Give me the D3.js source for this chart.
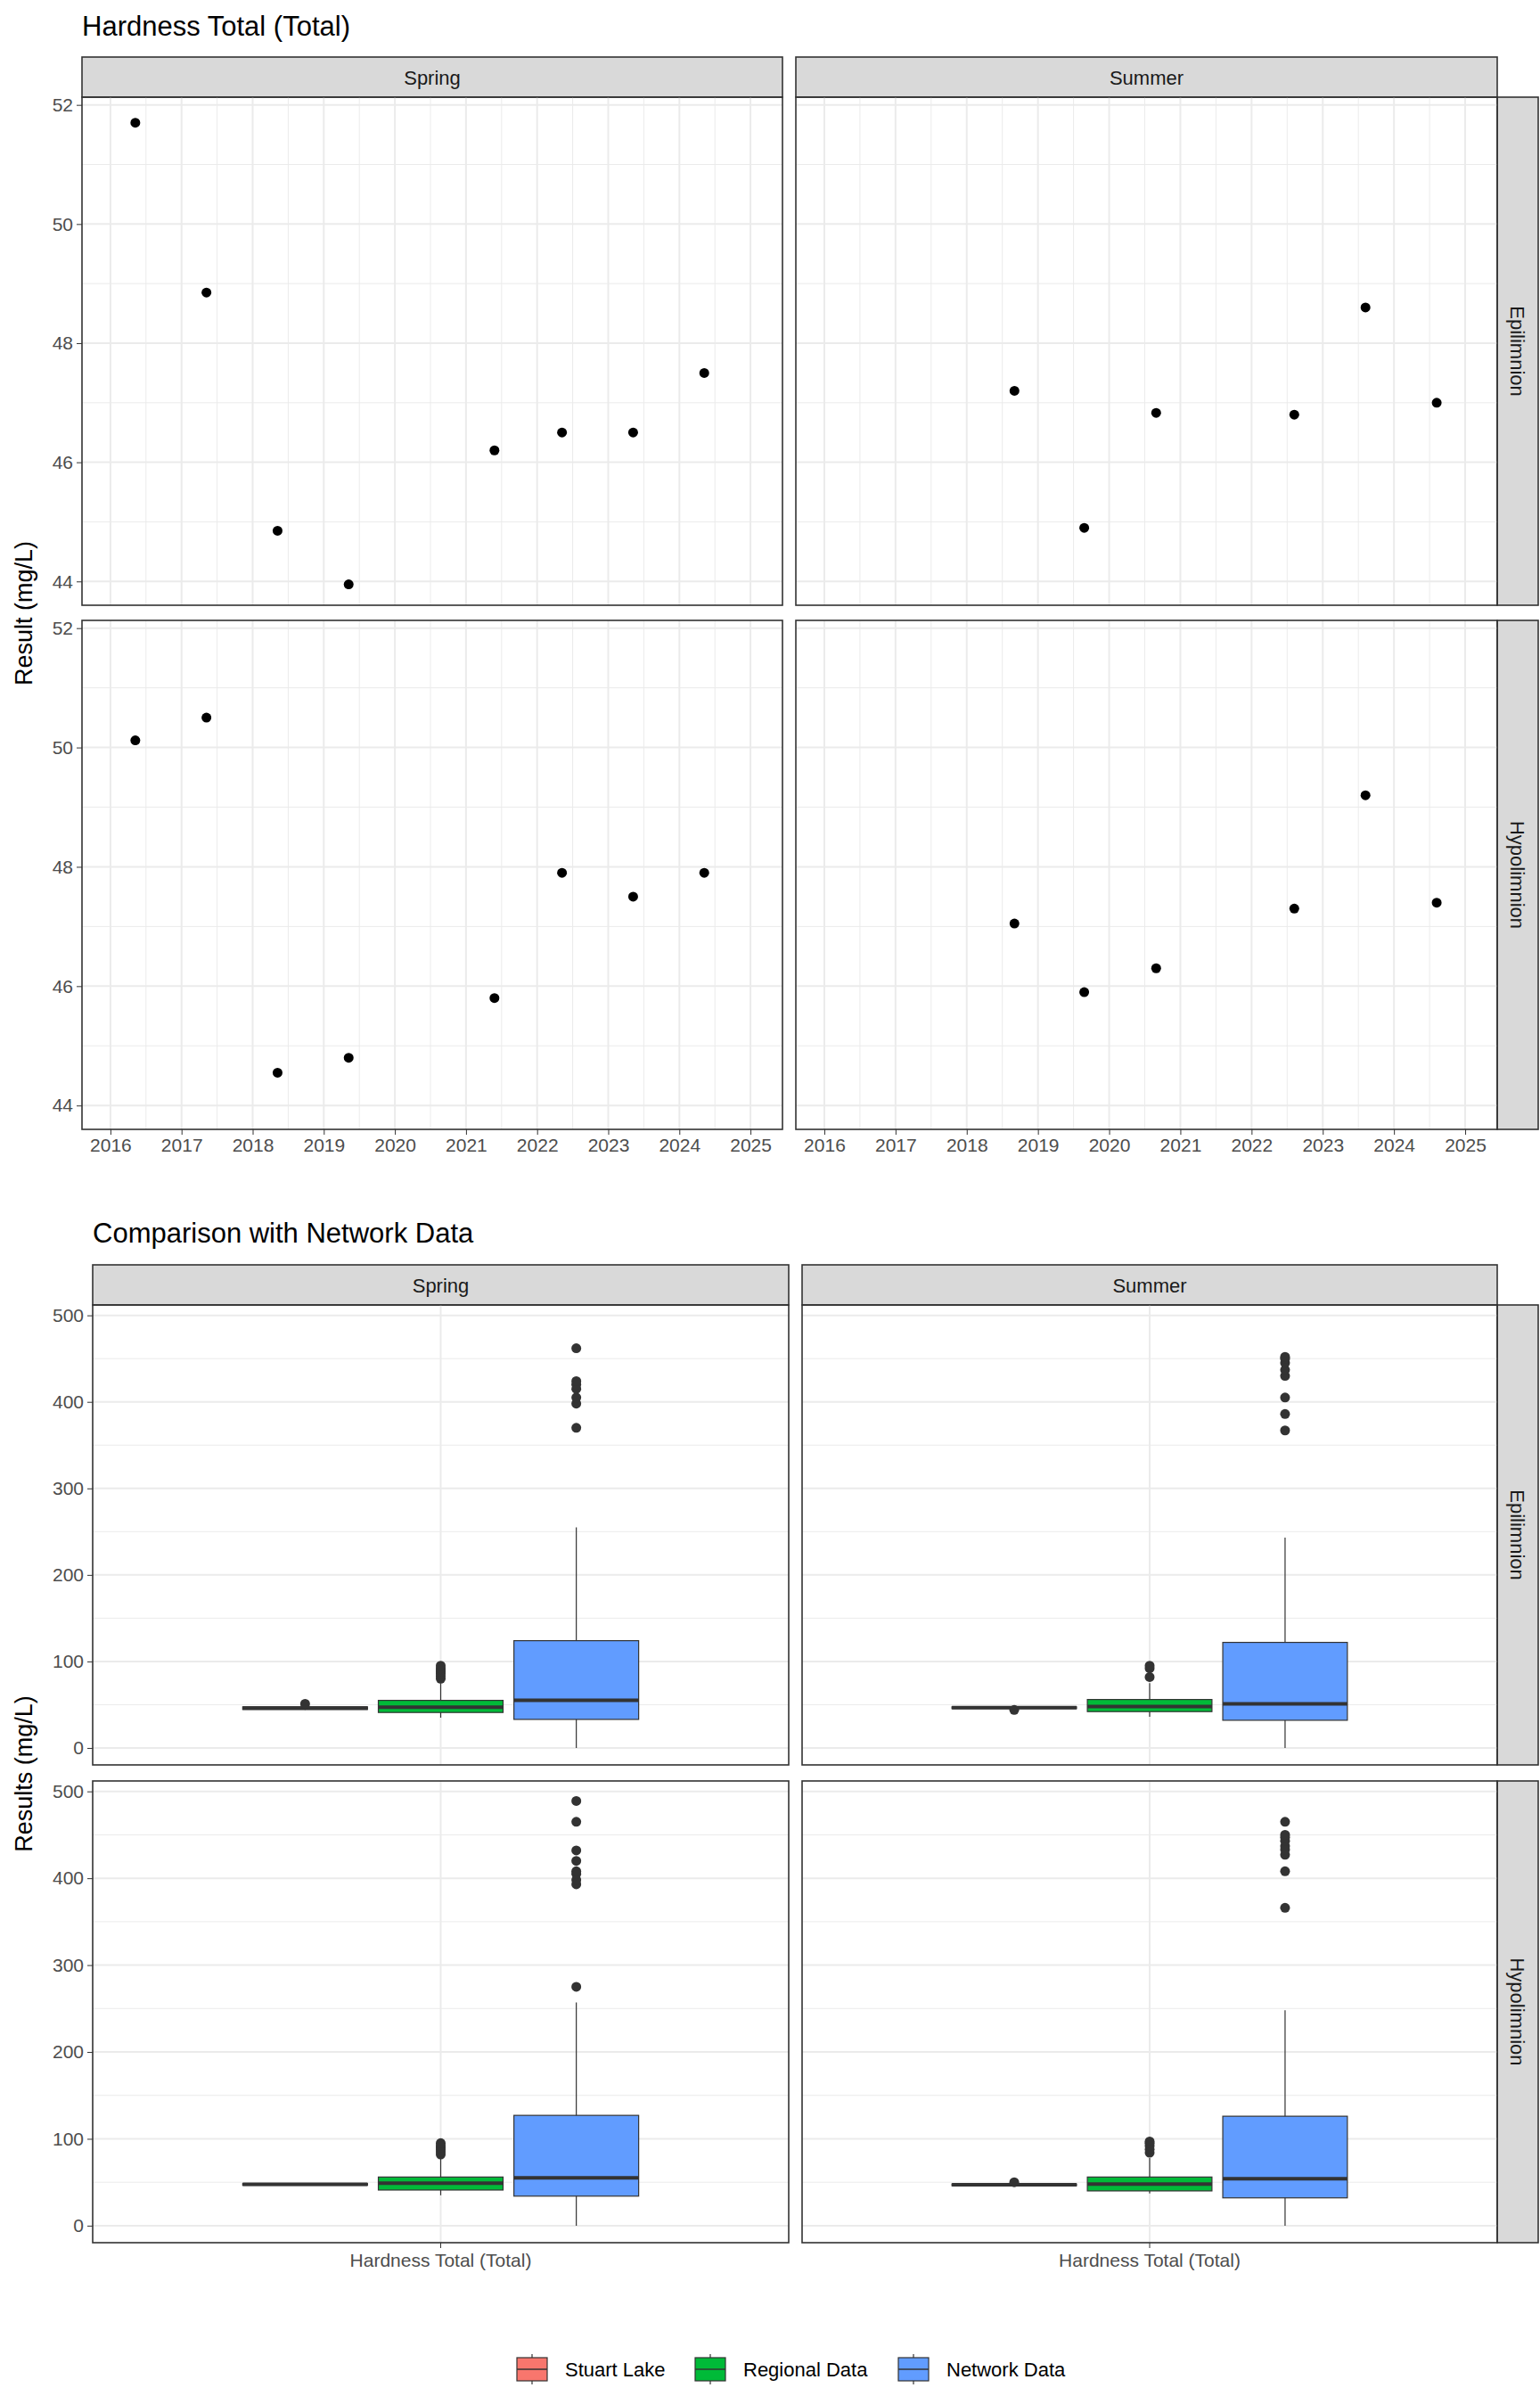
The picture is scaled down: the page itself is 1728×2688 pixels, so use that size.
<!DOCTYPE html>
<html><head><meta charset="utf-8">
<script src="https://cdn.jsdelivr.net/npm/d3@7"></script>
<style>body{margin:0;background:#fff}text{font-family:"Liberation Sans",Arial,sans-serif}</style>
</head><body><div id="chart"></div>
<script>
// Scatter facets: time series of hardness per season/depth
const seasons = ["Spring", "Summer"];
const depths = ["Epilimnion", "Hypolimnion"];
const yearTicks = [2016, 2017, 2018, 2019, 2020, 2021, 2022, 2023, 2024, 2025];
const springDates = [2016.35, 2017.35, 2018.35, 2019.35, 2021.4, 2022.35, 2023.35, 2024.35];
const summerDates = [2018.67, 2019.65, 2020.66, 2022.6, 2023.6, 2024.6];
const springEpi = [51.7, 48.85, 44.85, 43.95, 46.2, 46.5, 46.5, 47.5];
const summerEpi = [47.2, 44.9, 46.83, 46.8, 48.6, 47.0];
const springHypo = [50.12, 50.5, 44.55, 44.8, 45.8, 47.9, 47.5, 47.9];
const summerHypo = [47.05, 45.9, 46.3, 47.3, 49.2, 47.4];
const resultTicks = [44, 46, 48, 50, 52];

// Box plot facets: [whiskerLow, q1, median, q3, whiskerHigh]
const groups = ["Stuart Lake", "Regional Data", "Network Data"];
const groupColors = ["#F8766D", "#00BA38", "#619CFF"];
const boxStats = {
  "Spring|Epilimnion": [[44, 44.5, 46, 47.5, 48], [35, 41, 47, 55, 75], [0, 33, 55, 124, 255]],
  "Summer|Epilimnion": [[45.5, 45.5, 46.5, 47.5, 48], [36, 42, 48, 56, 75], [0, 32, 51, 122, 243]],
  "Spring|Hypolimnion": [[46.5, 46.5, 47.5, 48.5, 48.5], [35, 41, 49, 56, 78], [0, 34, 55, 127, 257]],
  "Summer|Hypolimnion": [[45.5, 46, 47, 48, 48.5], [37, 40, 48, 56, 78], [0, 32, 54, 126, 248]]
};
const boxOutliers = {
  "Spring|Epilimnion": [[51], [80, 83, 86, 88, 90, 92, 95], [370, 398, 405, 415, 420, 424, 462]],
  "Summer|Epilimnion": [[44], [82, 92, 95], [367, 386, 405, 430, 437, 445, 450, 452]],
  "Spring|Hypolimnion": [[], [82, 85, 88, 90, 92, 95], [275, 393, 398, 405, 408, 420, 432, 465, 489]],
  "Summer|Hypolimnion": [[50], [84, 88, 92, 95, 97], [366, 408, 427, 433, 437, 443, 447, 450, 465]]
};
const boxTicks = [0, 100, 200, 300, 400, 500];

const W = 1728, H = 2688;
const svg = d3.select("#chart").append("svg").attr("width", W).attr("height", H);

function facetFrame(cfg) {
  // cfg: cols [[x0,x1]], rows [[y0,y1]], stripTop, stripH, stripW
  cfg.cols.forEach((c, ci) => {
    svg.append("rect").attr("x", c[0]).attr("y", cfg.stripTop).attr("width", c[1] - c[0]).attr("height", cfg.stripH)
      .attr("fill", "#d9d9d9").attr("stroke", "#333").attr("stroke-width", 1.6);
    svg.append("text").attr("x", (c[0] + c[1]) / 2).attr("y", cfg.stripTop + cfg.stripH / 2 + 8)
      .attr("text-anchor", "middle").attr("font-size", 22).attr("fill", "#1a1a1a").text(seasons[ci]);
  });
  cfg.rows.forEach((r, ri) => {
    const x = cfg.cols[1][1];
    svg.append("rect").attr("x", x).attr("y", r[0]).attr("width", cfg.stripW).attr("height", r[1] - r[0])
      .attr("fill", "#d9d9d9").attr("stroke", "#333").attr("stroke-width", 1.6);
    svg.append("text").attr("transform", `translate(${x + cfg.stripW / 2 - 8},${(r[0] + r[1]) / 2}) rotate(90)`)
      .attr("text-anchor", "middle").attr("font-size", 22).attr("fill", "#1a1a1a").text(depths[ri]);
  });
}

function gridH(g, x0, x1, y, w) {
  g.append("line").attr("x1", x0).attr("x2", x1).attr("y1", y).attr("y2", y).attr("stroke", "#ebebeb").attr("stroke-width", w);
}
function gridV(g, y0, y1, x, w) {
  g.append("line").attr("y1", y0).attr("y2", y1).attr("x1", x).attr("x2", x).attr("stroke", "#ebebeb").attr("stroke-width", w);
}

// ---------- Top chart ----------
const tCols = [[92, 878], [893, 1680]];
const tRows = [[109, 679], [696, 1267]];
svg.append("text").attr("x", 92).attr("y", 40).attr("font-size", 31).attr("fill", "#000").text("Hardness Total (Total)");
facetFrame({ cols: tCols, rows: tRows, stripTop: 64, stripH: 45, stripW: 46 });
svg.append("text").attr("transform", `translate(36,${(109 + 1267) / 2}) rotate(-90)`).attr("text-anchor", "middle")
  .attr("font-size", 27).text("Result (mg/L)");

const seriesTop = {
  "Spring|Epilimnion": [springDates, springEpi], "Summer|Epilimnion": [summerDates, summerEpi],
  "Spring|Hypolimnion": [springDates, springHypo], "Summer|Hypolimnion": [summerDates, summerHypo]
};
tRows.forEach((r, ri) => tCols.forEach((c, ci) => {
  const x = d3.scaleLinear().domain([2015.6, 2025.45]).range([c[0], c[1]]);
  const y = d3.scaleLinear().domain([43.6, 52.13]).range([r[1], r[0]]);
  const g = svg.append("g");
  d3.range(43, 53, 1).forEach(v => { if (y(v) >= r[0] && y(v) <= r[1]) gridH(g, c[0], c[1], y(v), v % 2 ? 1 : 2); });
  d3.range(2015.5, 2026, 0.5).forEach(v => { if (x(v) >= c[0] && x(v) <= c[1]) gridV(g, r[0], r[1], x(v), Number.isInteger(v) ? 2 : 1); });
  const [dates, vals] = seriesTop[seasons[ci] + "|" + depths[ri]];
  g.selectAll("circle").data(vals).join("circle").attr("cx", (d, i) => x(dates[i])).attr("cy", d => y(d)).attr("r", 5.5).attr("fill", "#000");
  g.append("rect").attr("x", c[0]).attr("y", r[0]).attr("width", c[1] - c[0]).attr("height", r[1] - r[0])
    .attr("fill", "none").attr("stroke", "#333").attr("stroke-width", 1.6);
  if (ci === 0) {
    const ax = svg.append("g").attr("transform", `translate(${c[0]},0)`).call(d3.axisLeft(y).tickValues(resultTicks).tickSize(6).tickPadding(4));
    ax.select(".domain").remove();
    ax.selectAll("line").attr("stroke", "#333");
    ax.selectAll("text").attr("font-size", 21).attr("fill", "#4d4d4d").attr("font-family", "Liberation Sans, Arial");
  }
  if (ri === 1) {
    const ax = svg.append("g").attr("transform", `translate(0,${r[1]})`).call(d3.axisBottom(x).tickValues(yearTicks).tickFormat(d3.format("d")).tickSize(6).tickPadding(4));
    ax.select(".domain").remove();
    ax.selectAll("line").attr("stroke", "#333");
    ax.selectAll("text").attr("font-size", 21).attr("fill", "#4d4d4d").attr("font-family", "Liberation Sans, Arial");
  }
}));

// ---------- Bottom chart ----------
const bCols = [[104, 885], [900, 1680]];
const bRows = [[1464, 1980], [1998, 2516]];
svg.append("text").attr("x", 104).attr("y", 1394).attr("font-size", 31).text("Comparison with Network Data");
facetFrame({ cols: bCols, rows: bRows, stripTop: 1419, stripH: 45, stripW: 46 });
svg.append("text").attr("transform", `translate(36,${(1464 + 2516) / 2}) rotate(-90)`).attr("text-anchor", "middle")
  .attr("font-size", 27).text("Results (mg/L)");

bRows.forEach((r, ri) => bCols.forEach((c, ci) => {
  const key = seasons[ci] + "|" + depths[ri];
  const x = d3.scaleBand().domain(["Hardness Total (Total)"]).range([c[0], c[1]]).paddingInner(0.4).paddingOuter(0.2);
  const cx = x("Hardness Total (Total)") + x.bandwidth() / 2;
  const sub = d3.scaleBand().domain(groups).range([x("Hardness Total (Total)"), x("Hardness Total (Total)") + x.bandwidth()]).padding(0.08);
  const y = d3.scaleLinear().domain([-19.6, 512]).range([r[1], r[0]]);
  const g = svg.append("g");
  d3.range(0, 550, 50).forEach(v => { if (y(v) >= r[0]) gridH(g, c[0], c[1], y(v), v % 100 ? 1 : 2); });
  gridV(g, r[0], r[1], cx, 2);
  groups.forEach((gr, gi) => {
    const s = boxStats[key][gi];
    const bx = sub(gr), bw = sub.bandwidth(), mx = bx + bw / 2;
    g.append("line").attr("x1", mx).attr("x2", mx).attr("y1", y(s[0])).attr("y2", y(s[4])).attr("stroke", "#333").attr("stroke-width", 1.2);
    g.append("rect").attr("x", bx).attr("y", y(s[3])).attr("width", bw).attr("height", Math.max(1, y(s[1]) - y(s[3])))
      .attr("fill", groupColors[gi]).attr("stroke", "#333").attr("stroke-width", 1.2);
    g.append("line").attr("x1", bx).attr("x2", bx + bw).attr("y1", y(s[2])).attr("y2", y(s[2])).attr("stroke", "#333").attr("stroke-width", 4);
    g.selectAll(null).data(boxOutliers[key][gi]).join("circle").attr("cx", mx).attr("cy", d => y(d)).attr("r", 5.5).attr("fill", "#333");
  });
  g.append("rect").attr("x", c[0]).attr("y", r[0]).attr("width", c[1] - c[0]).attr("height", r[1] - r[0])
    .attr("fill", "none").attr("stroke", "#333").attr("stroke-width", 1.6);
  if (ci === 0) {
    const ax = svg.append("g").attr("transform", `translate(${c[0]},0)`).call(d3.axisLeft(y).tickValues(boxTicks).tickSize(6).tickPadding(4));
    ax.select(".domain").remove();
    ax.selectAll("line").attr("stroke", "#333");
    ax.selectAll("text").attr("font-size", 21).attr("fill", "#4d4d4d").attr("font-family", "Liberation Sans, Arial");
  }
  if (ri === 1) {
    const ax = svg.append("g").attr("transform", `translate(${cx - x.bandwidth() / 2},${r[1]})`)
      .call(d3.axisBottom(x.copy().range([0, x.bandwidth()]).paddingInner(0).paddingOuter(0)).tickSize(6).tickPadding(6));
    ax.select(".domain").remove();
    ax.selectAll("line").attr("stroke", "#333");
    ax.selectAll("text").attr("font-size", 21).attr("fill", "#4d4d4d").attr("font-family", "Liberation Sans, Arial");
  }
}));

// Legend
const legend = svg.append("g").attr("transform", "translate(0,2658)");
const legX = [580, 780, 1008];
groups.forEach((gr, gi) => {
  const lx = legX[gi];
  legend.append("line").attr("x1", lx + 17).attr("x2", lx + 17).attr("y1", -17).attr("y2", 17).attr("stroke", "#333").attr("stroke-width", 1.2);
  legend.append("rect").attr("x", lx).attr("y", -13).attr("width", 34).attr("height", 26).attr("fill", groupColors[gi]).attr("stroke", "#333").attr("stroke-width", 1.2);
  legend.append("line").attr("x1", lx).attr("x2", lx + 34).attr("y1", 0).attr("y2", 0).attr("stroke", "#333").attr("stroke-width", 1.5);
  legend.append("text").attr("x", lx + 54).attr("y", 8).attr("font-size", 22).text(gr);
});
</script></body></html>
